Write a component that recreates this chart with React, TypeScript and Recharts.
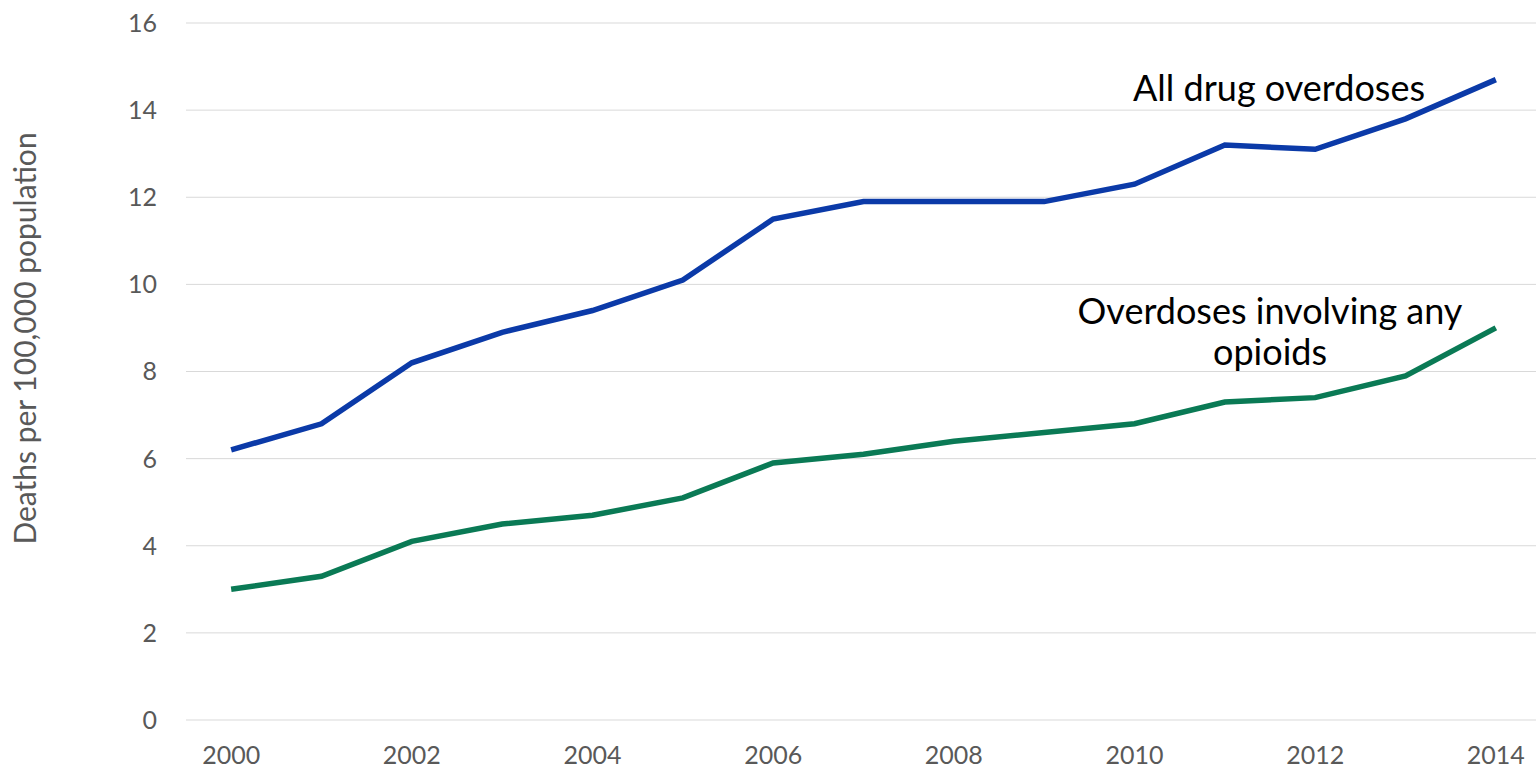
import React from 'react';
import { LineChart, Line, XAxis, YAxis, CartesianGrid, ReferenceDot, Label } from 'recharts';

const years = [2000, 2001, 2002, 2003, 2004, 2005, 2006, 2007, 2008, 2009, 2010, 2011, 2012, 2013, 2014];
const allDrug = [6.2, 6.8, 8.2, 8.9, 9.4, 10.1, 11.5, 11.9, 11.9, 11.9, 12.3, 13.2, 13.1, 13.8, 14.7];
const opioids = [3.0, 3.3, 4.1, 4.5, 4.7, 5.1, 5.9, 6.1, 6.4, 6.6, 6.8, 7.3, 7.4, 7.9, 9.0];
const xTicks = [2000, 2002, 2004, 2006, 2008, 2010, 2012, 2014];
const yTicks = [0, 2, 4, 6, 8, 10, 12, 14, 16];

const FONT = 'Lato, "Open Sans", sans-serif';
const BLUE = '#0b3aa8';
const GREEN = '#0a7a55';

const data = years.map((year, i) => ({ year, allDrug: allDrug[i], opioids: opioids[i] }));

export default function App() {
  return (
    <div style={{ position: 'absolute', left: 0, top: 0, background: '#fff' }}>
      <LineChart width={1536} height={771} data={data} margin={{ top: 23, right: -5, bottom: 0, left: 0 }}>
        <CartesianGrid vertical={false} stroke="#d9d9d9" strokeWidth={1} />
        <XAxis
          dataKey="year"
          type="number"
          domain={[1999.5, 2014.5]}
          ticks={xTicks}
          height={51}
          axisLine={false}
          tickLine={false}
          tickMargin={20}
          tick={{ fill: '#595959', fontSize: 25, fontFamily: FONT }}
        />
        <YAxis
          domain={[0, 16]}
          ticks={yTicks}
          width={186}
          axisLine={false}
          tickLine={false}
          tickMargin={23}
          tick={{ fill: '#595959', fontSize: 25, fontFamily: FONT }}
        >
          <Label
            content={(props: any) => {
              const vb = props.viewBox;
              const x = vb.x + 36;
              const y = vb.y + vb.height / 2 - 33;
              return (
                <text x={x} y={y} transform={`rotate(-90, ${x}, ${y})`} textAnchor="middle"
                  fill="#595959" fontSize={30} fontFamily={FONT}>
                  Deaths per 100,000 population
                </text>
              );
            }}
          />
        </YAxis>
        <Line type="linear" dataKey="allDrug" stroke={BLUE} strokeWidth={5.5} dot={false} isAnimationActive={false} />
        <Line type="linear" dataKey="opioids" stroke={GREEN} strokeWidth={5.5} dot={false} isAnimationActive={false} />
        <ReferenceDot x={2011.6} y={14.2} r={0} fill="none" stroke="none">
          <Label
            content={(props: any) => {
              const vb = props.viewBox;
              return (
                <text x={vb.x} y={vb.y} textAnchor="middle" fill="#000" fontSize={36} fontFamily={FONT}>
                  All drug overdoses
                </text>
              );
            }}
          />
        </ReferenceDot>
        <ReferenceDot x={2011.5} y={9.1} r={0} fill="none" stroke="none">
          <Label
            content={(props: any) => {
              const vb = props.viewBox;
              return (
                <text x={vb.x} y={vb.y} textAnchor="middle" fill="#000" fontSize={36} fontFamily={FONT}>
                  <tspan x={vb.x} dy={0}>Overdoses involving any</tspan>
                  <tspan x={vb.x} dy={41}>opioids</tspan>
                </text>
              );
            }}
          />
        </ReferenceDot>
      </LineChart>
    </div>
  );
}
